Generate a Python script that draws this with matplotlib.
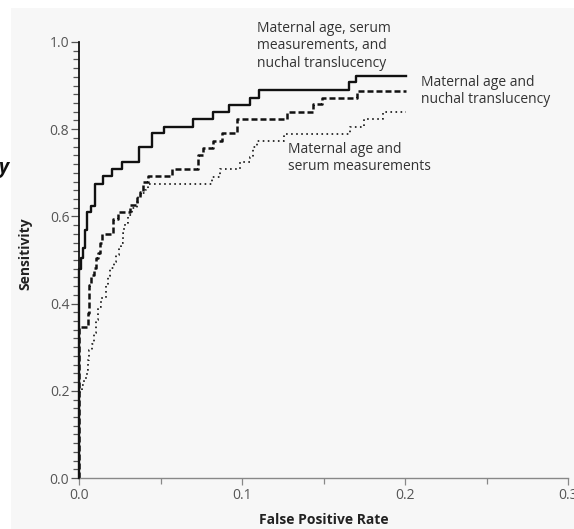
import matplotlib.pyplot as plt
from matplotlib.patches import Rectangle
from matplotlib.ticker import MultipleLocator

# ROC step curves (false positive rate, sensitivity)
fpr_all = [0, 0, 0.0015, 0.0025, 0.0037, 0.0052, 0.0074, 0.0100, 0.0145, 0.0202, 0.0264,
           0.0368, 0.0445, 0.0521, 0.0702, 0.0822, 0.0920, 0.1049, 0.1104, 0.1658, 0.1698, 0.2004]
tpr_all = [0, 0.479, 0.505, 0.528, 0.569, 0.610, 0.625, 0.674, 0.692, 0.709, 0.724,
           0.759, 0.791, 0.806, 0.823, 0.839, 0.856, 0.872, 0.889, 0.908, 0.923, 0.923]

fpr_nt = [0, 0, 0.0053, 0.0061, 0.0071, 0.0092, 0.0104, 0.0117, 0.0129, 0.0143, 0.0206,
          0.0237, 0.0313, 0.0354, 0.0374, 0.0393, 0.0423, 0.0569, 0.0730, 0.0761, 0.0824,
          0.0876, 0.0972, 0.1274, 0.1437, 0.1489, 0.1706, 0.2004]
tpr_nt = [0, 0.346, 0.378, 0.443, 0.466, 0.482, 0.505, 0.516, 0.538, 0.560, 0.594,
          0.611, 0.626, 0.645, 0.657, 0.680, 0.692, 0.708, 0.741, 0.756, 0.772,
          0.791, 0.823, 0.840, 0.857, 0.872, 0.888, 0.888]

fpr_serum = [0, 0, 0.0018, 0.0033, 0.0047, 0.0055, 0.0061, 0.0082, 0.0094, 0.0102, 0.0118,
             0.0135, 0.0166, 0.0178, 0.0190, 0.0217, 0.0227, 0.0244, 0.0258, 0.0268, 0.0278,
             0.0285, 0.0302, 0.0323, 0.0354, 0.0364, 0.0385, 0.0405, 0.0425, 0.0814, 0.0865,
             0.0988, 0.1049, 0.1067, 0.1090, 0.1258, 0.1663, 0.1748, 0.1867, 0.2004]
tpr_serum = [0, 0.197, 0.213, 0.229, 0.248, 0.271, 0.294, 0.307, 0.333, 0.362, 0.392,
             0.413, 0.443, 0.463, 0.482, 0.496, 0.511, 0.527, 0.538, 0.561, 0.573,
             0.585, 0.603, 0.619, 0.634, 0.649, 0.653, 0.661, 0.675, 0.691, 0.708,
             0.725, 0.737, 0.760, 0.773, 0.789, 0.806, 0.823, 0.839, 0.839]

label_all = "Maternal age, serum\nmeasurements, and\nnuchal translucency"
label_nt = "Maternal age and\nnuchal translucency"
label_serum = "Maternal age and\nserum measurements"

plt.rcParams['font.family'] = ['Open Sans', 'DejaVu Sans']

W, H = 574, 529
fig = plt.figure(figsize=(W / 100, H / 100), dpi=100, facecolor='white')
# light grey panel behind everything (white strip left and top)
fig.patches.append(Rectangle((11 / W, 0), 1, 1 - 8 / H, transform=fig.transFigure,
                             facecolor='#f7f7f7', edgecolor='none', zorder=-10))

ax = fig.add_axes([79 / W, 1 - 478 / H, (568 - 79) / W, (478 - 42) / H])
ax.set_facecolor('none')

ax.plot(fpr_serum, tpr_serum, drawstyle='steps-post', color='#222222', lw=1.3,
        dashes=(0.9, 1.9), clip_on=False)
ax.plot(fpr_nt, tpr_nt, drawstyle='steps-post', color='#111111', lw=1.8,
        dashes=(2.4, 1.2), clip_on=False)
ax.plot(fpr_all, tpr_all, drawstyle='steps-post', color='#111111', lw=1.7, clip_on=False)

ax.set_xlim(0, 0.3)
ax.set_ylim(0, 1.0)
ax.xaxis.set_major_locator(MultipleLocator(0.1))
ax.xaxis.set_minor_locator(MultipleLocator(0.05))
ax.yaxis.set_major_locator(MultipleLocator(0.2))
ax.yaxis.set_minor_locator(MultipleLocator(0.02))
ax.xaxis.set_major_formatter(lambda v, p: f"{v:.1f}")
ax.yaxis.set_major_formatter(lambda v, p: f"{v:.1f}")

for s in ('top', 'right'):
    ax.spines[s].set_visible(False)
ax.spines['left'].set_color('#111111')
ax.spines['left'].set_linewidth(1.3)
ax.spines['bottom'].set_color('#888888')
ax.spines['bottom'].set_linewidth(1.0)
ax.spines['left'].set_zorder(5)

ax.tick_params(axis='y', which='major', length=6, width=0.9, color='#555555',
               labelsize=10, labelcolor='#555555', pad=1)
ax.tick_params(axis='y', which='minor', length=4, width=0.9, color='#555555')
ax.tick_params(axis='x', which='major', length=5, width=0.9, color='#888888',
               labelsize=10, labelcolor='#555555', pad=2)
ax.tick_params(axis='x', which='minor', length=4, width=0.9, color='#888888')

fig.text(25 / W, 1 - 254 / H, "Sensitivity", rotation=90, ha='center', va='center',
         fontsize=10, fontweight='bold', color='#222222')
fig.text(323.5 / W, 1 - 520 / H, "False Positive Rate", ha='center', va='center',
         fontsize=10, fontweight='bold', color='#222222')
fig.text(-2 / W, 1 - 173 / H, "y", ha='left', va='baseline', fontsize=14,
         fontweight='bold', fontstyle='italic', color='#111111')

ax.text(0.109, 1.048, label_all, ha='left', va='top',
        fontsize=10, color='#333333', linespacing=1.22, clip_on=False)
ax.text(0.210, 0.925, label_nt, ha='left', va='top',
        fontsize=10, color='#333333', linespacing=1.22, clip_on=False)
ax.text(0.128, 0.771, label_serum, ha='left', va='top',
        fontsize=10, color='#333333', linespacing=1.22, clip_on=False)

fig.savefig("out.png", dpi=100, facecolor=fig.get_facecolor())
